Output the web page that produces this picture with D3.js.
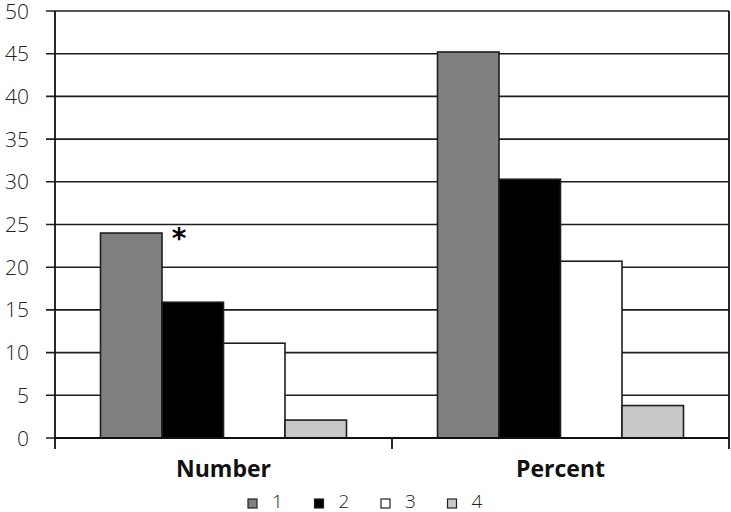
<!DOCTYPE html>
<html>
<head>
<meta charset="utf-8">
<script src="https://cdn.jsdelivr.net/npm/d3@7"></script>
<style>
  body { margin: 0; background: #fff; }
  svg { display: block; }
</style>
</head>
<body>
<svg id="chart" width="731" height="512"></svg>
<script>
// data
const categories = ['Number', 'Percent'];
const seriesNames = ['1', '2', '3', '4'];
const numberVals = [24, 15.9, 11.1, 2.1];
const percentVals = [45.2, 30.3, 20.7, 3.8];
const yTicks = [0, 5, 10, 15, 20, 25, 30, 35, 40, 45, 50];
const fills = ['#808080', '#000000', '#ffffff', '#c8c8c8'];

const svg = d3.select('#chart');
const padL = 55, padR = 729, padT = 11, padB = 438;

const x0 = d3.scaleBand().domain(categories).range([padL, padR]);
const x1 = d3.scaleBand().domain(seriesNames)
    .range([0, x0.bandwidth()]).paddingOuter(0.74).paddingInner(0);
const y = d3.scaleLinear().domain([0, 50]).range([padB, padT]);

const rows = [numberVals, percentVals].map((vals, i) => ({
    cat: categories[i],
    vals: vals.map((v, j) => ({ key: seriesNames[j], v: v, fill: fills[j] }))
}));

// gridlines
svg.append('g')
    .selectAll('line')
    .data(yTicks)
    .join('line')
    .attr('x1', padL - 9)
    .attr('x2', padR)
    .attr('y1', d => y(d))
    .attr('y2', d => y(d))
    .attr('stroke', '#1e1e1e')
    .attr('stroke-width', 1.6);

// y labels
svg.append('g')
    .selectAll('text')
    .data(yTicks)
    .join('text')
    .attr('x', 29)
    .attr('y', d => y(d))
    .attr('dy', '0.36em')
    .attr('text-anchor', 'end')
    .attr('font-family', 'Open Sans, Noto Sans, sans-serif')
    .attr('font-weight', 300)
    .attr('font-size', 21)
    .attr('fill', '#222')
    .text(d => d);

// bars
svg.append('g')
    .selectAll('g')
    .data(rows)
    .join('g')
    .attr('transform', d => `translate(${x0(d.cat)},0)`)
    .selectAll('rect')
    .data(d => d.vals)
    .join('rect')
    .attr('x', d => x1(d.key))
    .attr('width', x1.bandwidth())
    .attr('y', d => y(d.v))
    .attr('height', d => y(0) - y(d.v))
    .attr('fill', d => d.fill)
    .attr('stroke', '#1e1e1e')
    .attr('stroke-width', 1.6);

// axes: left, right, bottom and category ticks
const ax = svg.append('g').attr('stroke', '#111').attr('stroke-width', 1.8);
ax.append('line').attr('x1', padL).attr('x2', padL).attr('y1', padT).attr('y2', padB + 11);
ax.append('line').attr('x1', padR).attr('x2', padR).attr('y1', padT).attr('y2', padB + 11);
ax.append('line').attr('x1', padL).attr('x2', padR).attr('y1', padB).attr('y2', padB);
ax.append('line').attr('x1', x0('Percent')).attr('x2', x0('Percent'))
    .attr('y1', padB).attr('y2', padB + 11);

// category labels
svg.append('g')
    .selectAll('text')
    .data(categories)
    .join('text')
    .attr('x', d => x0(d) + x0.bandwidth() / 2)
    .attr('y', 477)
    .attr('text-anchor', 'middle')
    .attr('font-family', 'Open Sans, Noto Sans, sans-serif')
    .attr('font-weight', 'bold')
    .attr('font-size', 23)
    .attr('fill', '#111')
    .text(d => d);

// significance star
svg.append('text')
    .attr('x', x0('Number') + x1('2') + 17)
    .attr('y', 248)
    .attr('text-anchor', 'middle')
    .attr('font-family', 'DejaVu Sans, sans-serif')
    .attr('font-weight', 'bold')
    .attr('font-size', 28)
    .text('*');

// legend
const lg = svg.append('g')
    .selectAll('g')
    .data(seriesNames)
    .join('g')
    .attr('transform', (d, i) => `translate(${248 + i * 66.5},499)`);
lg.append('rect')
    .attr('width', 9).attr('height', 9)
    .attr('fill', (d, i) => fills[i])
    .attr('stroke', '#222').attr('stroke-width', 1.2);
lg.append('text')
    .attr('x', 24).attr('y', 9)
    .attr('font-family', 'Open Sans, Noto Sans, sans-serif')
    .attr('font-weight', 300)
    .attr('font-size', 19)
    .attr('fill', '#222')
    .text(d => d);
</script>
</body>
</html>
